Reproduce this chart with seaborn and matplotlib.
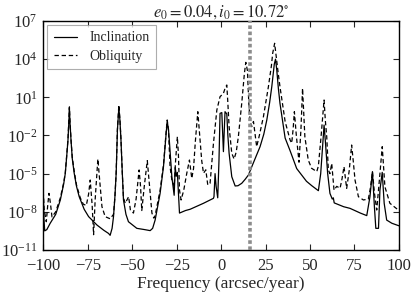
import numpy as np
import pandas as pd
import matplotlib
matplotlib.use("Agg")
import matplotlib.pyplot as plt
import seaborn as sns
from matplotlib.ticker import FixedLocator, LogFormatterSciNotation, NullLocator

# ---- data (frequency in arcsec/year, power as log10 exponent) ----
incl_freq = [-100, -99.6, -99.2, -98, -96.1, -93, -90.4, -88.5, -87.6, -86.8, -86.1, -85.6, -85.3, -85.0,
             -84.4, -83.7, -82.6, -81.3, -79.8, -77, -74.5, -69.8, -66, -63.3, -62.4, -61.3, -60.5, -59.7,
             -59.0, -58.3, -57.5, -56.9, -56.3, -55.6, -54.9, -53.5, -52.1, -47.4, -43, -39.9, -38.5, -37.1,
             -34.3, -32.4, -30.9, -30.3, -29.6, -29.0, -27.7, -26.4, -25.8, -25.2, -24.6, -24.0, -23.4, -20,
             -17.4, -9.9, -4.3, -4.0, -3.4, -2.8, -1.9, -1.2, -0.6, 0.4, 1.3, 2.2, 3.2, 3.8, 4.5, 6.0, 7.9,
             9.5, 11.6, 13.5, 15.4, 18, 21.9, 24, 25.7, 27.3, 28.5, 29.9, 30.6, 31.3, 32.2, 33.1, 36, 38.8,
             42.5, 48, 51, 54.7, 56.0, 57.0, 57.9, 58.6, 59.9, 61.2, 62.5, 63.1, 63.6, 68.9, 72.5, 78.3, 81.9,
             83.7, 85.1, 86.2, 87.0, 88.5, 89.3, 90.6, 91.7, 93.1, 96, 100]
incl_exp = [-6.4, -8.6, -9.5, -9.4, -8.9, -8.2, -7.07, -5.8, -4.97, -3.6, -2.36, -0.9, 0.15, -0.9,
            -2.36, -3.8, -4.97, -6.0, -6.81, -7.8, -8.38, -9.04, -9.45, -9.7, -9.85, -9.3, -8.38, -6.8,
            -4.97, -1.57, 0.2, -0.8, -2.36, -4.8, -7.07, -8.2, -8.78, -9.3, -9.4, -9.48, -9.3, -8.65,
            -6.55, -4.45, -1.83, -0.9, -1.5, -2.62, -5.24, -6.7, -4.5, -5.2, -4.9, -6.5, -8.1, -7.9,
            -7.8, -7.33, -6.94, -6.8, -5.0, -6.0, -6.9, -4.0, -0.26, -0.2, -3.27, -0.13, -0.3, -2.0, -3.4,
            -5.24, -5.97, -5.95, -5.76, -5.45, -5.1, -4.2, -2.88, -1.9, -0.78, 0.6, 1.84, 3.6, 4.0, 3.15,
            1.7, 0.53, -2.2, -3.2, -4.6, -5.6, -5.95, -6.34, -5.0, -3.0, -1.18, -2.4, -4.97, -6.55, -7.0,
            -6.9, -7.3, -7.6, -7.73, -8.1, -8.3, -6.81, -4.84, -7.6, -9.3, -9.3, -6.3, -4.9, -7.33, -8.65,
            -8.9, -9.1]

obl_freq = [-100, -99.5, -98.3, -97.5, -96.8, -96.0, -95.1, -93, -90.4, -88.5, -87.6, -86.8, -86.1, -85.6,
            -85.3, -85.0, -84.4, -83.7, -82.6, -81.3, -79.2, -77.5, -75.8, -74.5, -73.6, -72.5, -71.7, -70.8,
            -69.3, -68.3, -67.0, -65.2, -62.4, -60.5, -59.7, -59.0, -58.3, -57.5, -56.9, -56.3, -55.6, -54.9,
            -53.9, -52.0, -51.0, -49.3, -47.8, -46.1, -45.3, -44.6, -43.2, -41.5, -40.2, -38.9, -37.8, -37.1,
            -34.3, -32.4, -30.9, -30.3, -29.6, -28.7, -27.7, -26.4, -25.6, -24.6, -24.0, -23.4, -22.5, -21.0,
            -19.3, -17.8, -16.5, -15.5, -14.5, -13.1, -12.3, -10.9, -9.9, -8.6, -7.5, -6.2, -4.3, -2.4, -0.6,
            1.3, 2.2, 3.2, 3.7, 4.5, 6.0, 7.3, 8.5, 9.7, 11.6, 13.1, 13.9, 14.8, 15.6, 16.3, 17.2, 18.2, 19.2,
            20.0, 21.5, 23.8, 26.6, 28.3, 29.0, 30.1, 31.2, 32.1, 33.1, 36.0, 38.8, 39.7, 40.5, 41.2, 42.3,
            43.8, 44.9, 45.8, 46.4, 47.1, 49.0, 50.9, 53.8, 54.7, 56.2, 57.9, 58.6, 59.4, 60.3, 61.2, 62.2,
            63.5, 65.0, 66.9, 68.0, 69.1, 70.6, 72.0, 73.4, 74.3, 75.3, 77.2, 80.0, 82.8, 84.1, 85.1, 86.2,
            87.5, 89.0, 90.6, 91.3, 92.1, 94.9, 99.6, 100]
obl_exp = [-6.4, -7.8, -8.78, -7.5, -6.55, -7.3, -8.4, -8.0, -6.9, -5.7, -4.9, -3.5, -2.3, -0.8,
           0.25, -0.8, -2.3, -3.7, -4.8, -5.9, -6.9, -7.4, -7.5, -6.6, -5.5, -7.5, -9.8, -7.0,
           -3.85, -5.5, -7.6, -8.38, -8.55, -8.2, -6.8, -4.9, -1.5, 0.4, -0.7, -2.3, -4.8, -6.9,
           -7.33, -6.81, -7.86, -8.1, -7.0, -4.71, -6.0, -7.9, -6.0, -3.98, -6.0, -8.1, -8.5, -8.3,
           -6.3, -4.3, -1.7, -0.78, -1.6, -4.45, -5.5, -6.03, -4.0, -2.1, -3.5, -6.29, -7.07, -6.3,
           -4.97, -3.93, -5.37, -4.6, -2.5, -0.13, -1.5, -3.98, -4.97, -4.7, -5.89, -5.75, -2.62, 0.0, 1.05,
           1.31, 1.7, 1.97, 0.8, -1.31, -3.4, -3.85, -3.3, -2.1, 0.53, 2.89, 3.75, 3.1, 0.5, -0.9, -1.3, -0.9, -2.0,
           -2.88, -2.0, -0.52, 1.84, 3.5, 4.46, 5.25, 3.93, 2.9, 1.84, -0.9, -2.36, -2.6, -1.5, -0.13, -2.0,
           -4.1, -1.5, 1.71, 0.0, -2.1, -3.93, -4.58, -4.84, -4.4, -2.1, 0.79, -0.8, -2.1, -4.71, -5.0, -4.2,
           -6.3, -6.0, -6.15, -5.4, -4.45, -6.16, -4.8, -2.75, -4.0, -5.5, -6.81, -7.07, -7.0, -6.0, -4.84, -6.5,
           -7.86, -5.5, -2.88, -4.3, -6.03, -7.33, -7.86, -7.9]

marker_freq = 16.0
ytick_exps = [-11, -8, -5, -2, 1, 4, 7]
title = r"$e_0 = 0.04, i_0 = 10.72^{\circ}$"

# ---- style ----
sns.set_style("ticks")
plt.rcParams.update({
    "font.family": ["Liberation Serif", "DejaVu Serif"],
    "mathtext.fontset": "stix",
    "xtick.direction": "in",
    "ytick.direction": "in",
    "xtick.top": True,
    "ytick.right": True,
    "axes.edgecolor": "black",
    "axes.linewidth": 1.0,
})

df_i = pd.DataFrame({"freq": incl_freq, "power": 10.0 ** np.array(incl_exp)})
df_o = pd.DataFrame({"freq": obl_freq, "power": 10.0 ** np.array(obl_exp)})

DASH = (0, (3.5, 2.2))

fig, ax = plt.subplots(figsize=(4.16, 2.92), dpi=100)
fig.subplots_adjust(left=0.104, right=0.959, top=0.928, bottom=0.144)

sns.lineplot(data=df_i, x="freq", y="power", ax=ax, color="black", linewidth=0.9,
             label="Inclination", estimator=None, sort=False)
sns.lineplot(data=df_o, x="freq", y="power", ax=ax, color="black", linewidth=0.9,
             label="Obliquity", estimator=None, sort=False)
ax.lines[-1].set_linestyle(DASH)
ax.axvline(marker_freq, color="0.55", linestyle=(0, (1, 0.7)), linewidth=2.6, zorder=3)

ax.set_yscale("log")
ax.set_xlim(-100, 100)
ax.set_ylim(1e-11, 1e7)
ax.yaxis.set_major_locator(FixedLocator([10.0 ** e for e in ytick_exps]))
ax.yaxis.set_major_formatter(LogFormatterSciNotation())
ax.yaxis.set_minor_locator(NullLocator())
ax.set_xticks([-100, -75, -50, -25, 0, 25, 50, 75, 100])
ax.tick_params(labelsize=12, length=4, width=0.8)
ax.tick_params(axis="x", pad=6)
ax.tick_params(axis="y", pad=4)
ax.set_xlabel("Frequency (arcsec/year)", fontsize=12.5, labelpad=1)
ax.set_ylabel("")
ax.set_title(title, fontsize=12, pad=3)

leg = ax.legend(loc="upper left", fontsize=10, frameon=True, fancybox=False,
                edgecolor="0.6", handlelength=1.7, handletextpad=0.9, borderpad=0.45,
                labelspacing=0.4, borderaxespad=0.3)
leg.get_frame().set_linewidth(0.8)
for h in leg.get_lines():
    h.set_color("black")
leg.get_lines()[0].set_linestyle("-")
leg.get_lines()[1].set_linestyle(DASH)

fig.savefig("out.png", dpi=100)
